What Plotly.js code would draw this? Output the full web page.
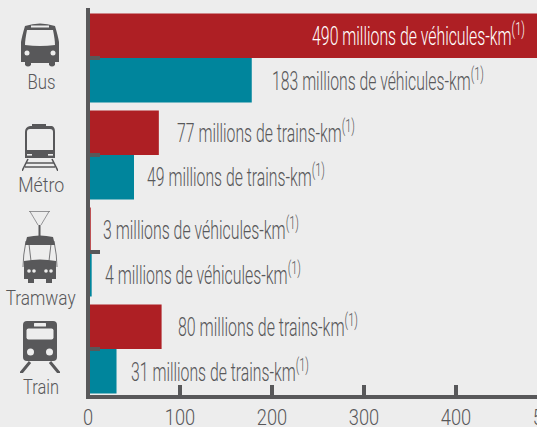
<!DOCTYPE html>
<html><head><meta charset="utf-8">
<script src="https://cdn.plot.ly/plotly-3.0.1.min.js"></script>
<style>html,body{margin:0;padding:0;background:#ededed;overflow:hidden;width:537px;height:427px}</style>
</head><body><div id="c"></div>
<script>
const categories = ['Bus','Métro','Tramway','Train'];
const redValues = [490,77,3,80];
const tealValues = [178,50,4,31];
const redLabels = ['490 millions de véhicules-km','77 millions de trains-km','3 millions de véhicules-km','80 millions de trains-km'];
const tealLabels = ['183 millions de véhicules-km','49 millions de trains-km','4 millions de véhicules-km','31 millions de trains-km'];
const xTicks = [0,100,200,300,400,500];
const RED='#ae1f24', TEAL='#00859c', DARK='#58585a';
const W=620,H=427,L=86,T=8,B=395,PW=W-L,PH=B-T,SCALE=0.92;
const FONT='Roboto,"Liberation Sans",sans-serif';
const px=x=>(x-L)/PW, py=y=>(B-y)/PH;

const redX=[310,175,101,176], tealX=[270,145,103,129];
const redW=[213,178,196,180], tealW=[212,178,196,178];
const catLabelY=[82,185,298,387], catLabelX=[41,41,40,41], catW=[28,46,70,36];
const ann=[], widths=[];
categories.forEach((c,i)=>{
  ann.push({xref:'paper',yref:'paper',x:px(redX[i]),y:py(35+97*i),xanchor:'left',yanchor:'middle',showarrow:false,
    text:redLabels[i]+'<sup>(1)</sup>',font:{family:FONT,size:25,weight:300,color:i==0?'#ffffff':DARK}});
  widths.push(redW[i]);
  ann.push({xref:'paper',yref:'paper',x:px(tealX[i]),y:py(80+97*i),xanchor:'left',yanchor:'middle',showarrow:false,
    text:tealLabels[i]+'<sup>(1)</sup>',font:{family:FONT,size:25,weight:300,color:DARK}});
  widths.push(tealW[i]);
  ann.push({xref:'paper',yref:'paper',x:px(catLabelX[i]),y:py(catLabelY[i]),xanchor:'center',yanchor:'middle',showarrow:false,
    text:c,font:{family:FONT,size:21,weight:300,color:DARK}});
  widths.push(catW[i]);
});

const svg=(w,h,body)=>'data:image/svg+xml;utf8,'+encodeURIComponent('<svg xmlns="http://www.w3.org/2000/svg" width="'+w+'" height="'+h+'" viewBox="0 0 '+w+' '+h+'">'+body+'</svg>');
const d=DARK, bg='#ededed';
const busIcon=svg(38,45,`<path fill="${d}" d="M4 4 Q19 -1 34 4 Q37 14 38 20 V40 H34 V43 Q31 46 28 43 V41 H10 V43 Q7 46 4 43 V40 H0 V20 Q1 14 4 4Z"/><path fill="${bg}" d="M6 8 H32 Q34 18 34 23 Q19 25 4 23 Q4 18 6 8Z"/><rect x="10" y="3.5" width="18" height="2" fill="${bg}"/><circle cx="6" cy="31" r="2.5" fill="${bg}"/><circle cx="32" cy="31" r="2.5" fill="${bg}"/>`);
const metroIcon=svg(36,47,`<path fill="${d}" d="M10 0 H24 V2 H30 Q33 3 33 8 V34 H3 V8 Q3 3 8 2 H10Z"/><path fill="${bg}" d="M5 8 Q5 5 8 5 H28 Q31 5 31 8 V26 H5Z"/><rect x="5" y="30" width="5" height="1.6" fill="${bg}"/><rect x="26" y="30" width="5" height="1.6" fill="${bg}"/><path stroke="${d}" stroke-width="1.6" fill="none" d="M6 35 L0 47 M30 35 L36 47 M4 39 H32 M3 43 H33"/>`);
const tramIcon=svg(36,72,`<path fill="none" stroke="${d}" stroke-width="0.6" d="M7 0.5 H28 M8 0.5 L16 14 M27 0.5 L19 14"/><rect x="16.5" y="14" width="2" height="12" fill="${d}"/><path fill="${d}" d="M5 26 Q18 23 31 26 L33 34 H3Z"/><path fill="none" stroke="${d}" stroke-width="0.8" d="M4 30 Q1 45 1 56 M32 30 Q35 45 35 56 M7 33 L9 50 M29 33 L27 50"/><path fill="${d}" d="M2 50 Q18 47 34 50 V68 H30 V72 H24 V68 H12 V72 H6 V68 H2Z"/><circle cx="7" cy="60" r="1.8" fill="${bg}"/><circle cx="12" cy="60" r="1.8" fill="${bg}"/><circle cx="24" cy="60" r="1.8" fill="${bg}"/><circle cx="29" cy="60" r="1.8" fill="${bg}"/>`);
const trainIcon=svg(40,52,`<path fill="${d}" d="M7 0 H33 Q37 0 37 4 V36 Q37 40 33 40 H7 Q3 40 3 36 V4 Q3 0 7 0Z"/><rect x="14" y="2" width="12" height="3.5" rx="0.5" fill="${bg}"/><rect x="6.5" y="7.5" width="27" height="11" rx="2" fill="${bg}"/><circle cx="10.5" cy="31" r="3.5" fill="${bg}"/><circle cx="29.5" cy="31" r="3.5" fill="${bg}"/><path stroke="${d}" stroke-width="3" fill="none" d="M10 41 L1 52 H0 M30 41 L39 52 H40"/>`);
const img=(src,x,y,w,h)=>({source:src,xref:'paper',yref:'paper',x:px(x),y:py(y),sizex:w/PW,sizey:h/PH,sizing:'stretch',xanchor:'left',yanchor:'top',layer:'above'});

const base={type:'bar',orientation:'h',y:categories,hoverinfo:'skip'};
Plotly.newPlot('c',[
  Object.assign({},base,{x:redValues,marker:{color:RED,line:{width:0}},name:'a'}),
  Object.assign({},base,{x:tealValues,marker:{color:TEAL,line:{width:0}},name:'b'})
],{
  width:W,height:H,margin:{l:L,r:0,t:T,b:H-B,pad:0},
  paper_bgcolor:'#ededed',plot_bgcolor:'#ededed',showlegend:false,
  barmode:'group',bargap:8/97,bargroupgap:0,
  xaxis:{range:[-2/SCALE,(W-88)/SCALE],tickvals:xTicks,ticktext:xTicks.map(String),ticks:'inside',ticklen:10,tickwidth:4,tickcolor:DARK,
    showline:true,linewidth:4,linecolor:DARK,showgrid:false,zeroline:false,layer:'above traces',
    tickfont:{family:FONT,size:22,weight:300,color:DARK}},
  yaxis:{type:'category',categoryorder:'array',categoryarray:categories,range:[(B-58)/97,(T-58)/97],
    anchor:'free',position:2/PW,side:'left',showticklabels:false,ticks:'inside',ticklen:10,tickwidth:4,tickcolor:DARK,
    showline:true,linewidth:4,linecolor:DARK,showgrid:false,zeroline:false,layer:'above traces'},
  annotations:ann,
  images:[img(busIcon,21,22,38,45),img(metroIcon,22,124,36,47),img(tramIcon,22,211,36,72),img(trainIcon,20,321,40,52)]
},{displayModeBar:false,staticPlot:true}).then(gd=>{
  const squeeze=(el,k,centered)=>{
    const b=el.getBBox(), ox=centered?b.x+b.width/2:b.x, t=el.getAttribute('transform')||'';
    el.setAttribute('transform',`${t} translate(${ox} 0) scale(${k} 1) translate(${-ox} 0)`);
  };
  gd.querySelectorAll('.annotation-text-g text, .annotation text').forEach((el,i)=>{
    if(i<widths.length){ squeeze(el,widths[i]/el.getBBox().width,(i%3)===2); }
  });
  gd.querySelectorAll('.xtick text').forEach(el=>squeeze(el,0.83,true));
});
</script></body></html>
